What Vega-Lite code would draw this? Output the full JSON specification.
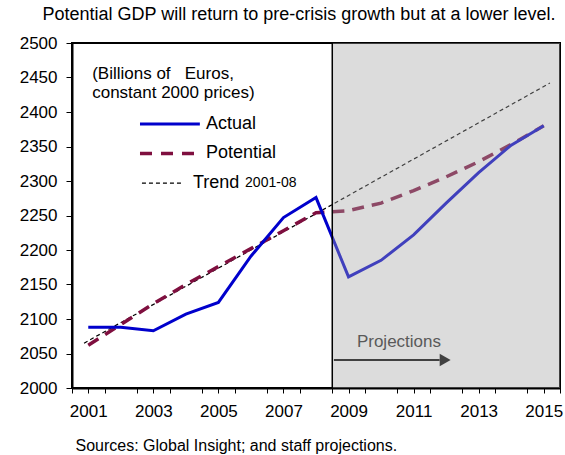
{
  "$schema": "https://vega.github.io/schema/vega-lite/v6.json",
  "width": 488,
  "height": 345,
  "padding": {"left": 19, "top": 6, "right": 5, "bottom": 5},
  "title": {"text": "Potential GDP will return to pre-crisis growth but at a lower level.", "fontSize": 18, "font": "Liberation Sans", "fontWeight": "normal", "anchor": "middle", "dx": -17, "offset": 10, "color": "black"},
  "config": {
    "view": {"stroke": "black", "strokeWidth": 2},
    "font": "Liberation Sans",
    "axis": {"labelFont": "Liberation Sans", "labelFontWeight": "normal", "labelColor": "black", "labelFontSize": 17,
      "labelOverlap": false, "labelFlush": false, "labelBound": false, "ticks": true, "tickColor": "black", "tickWidth": 1,
      "domainColor": "black", "domainWidth": 2, "grid": false, "zindex": 1},
    "axisX": {"tickSize": 5, "labelPadding": 10, "titleFont": "Liberation Sans", "titleFontSize": 16, "titleFontWeight": "normal",
      "titleColor": "black", "titleAnchor": "start", "titleAlign": "left", "titlePadding": 18, "titleX": 3},
    "axisY": {"tickSize": 6, "labelPadding": 9}
  },
  "data": {"values": [
    {"year": 2001, "series": "Actual", "value": 2088},
    {"year": 2002, "series": "Actual", "value": 2088},
    {"year": 2003, "series": "Actual", "value": 2083},
    {"year": 2004, "series": "Actual", "value": 2107},
    {"year": 2005, "series": "Actual", "value": 2124},
    {"year": 2006, "series": "Actual", "value": 2191},
    {"year": 2007, "series": "Actual", "value": 2247},
    {"year": 2008, "series": "Actual", "value": 2276},
    {"year": 2009, "series": "Actual", "value": 2161},
    {"year": 2010, "series": "Actual", "value": 2185},
    {"year": 2011, "series": "Actual", "value": 2222},
    {"year": 2012, "series": "Actual", "value": 2268},
    {"year": 2013, "series": "Actual", "value": 2312},
    {"year": 2014, "series": "Actual", "value": 2352},
    {"year": 2015, "series": "Actual", "value": 2380},
    {"year": 2001, "series": "Potential", "value": 2062},
    {"year": 2002, "series": "Potential", "value": 2092},
    {"year": 2003, "series": "Potential", "value": 2122},
    {"year": 2004, "series": "Potential", "value": 2150},
    {"year": 2005, "series": "Potential", "value": 2176},
    {"year": 2006, "series": "Potential", "value": 2202},
    {"year": 2007, "series": "Potential", "value": 2228},
    {"year": 2008, "series": "Potential", "value": 2254},
    {"year": 2009, "series": "Potential", "value": 2257},
    {"year": 2010, "series": "Potential", "value": 2268},
    {"year": 2011, "series": "Potential", "value": 2286},
    {"year": 2012, "series": "Potential", "value": 2306},
    {"year": 2013, "series": "Potential", "value": 2328},
    {"year": 2014, "series": "Potential", "value": 2353},
    {"year": 2015, "series": "Potential", "value": 2380},
    {"year": 2000.87, "series": "Trend 2001-08", "value": 2065},
    {"year": 2015.19, "series": "Trend 2001-08", "value": 2442}
  ]},
  "layer": [
    {
      "transform": [{"filter": "datum.series == 'Trend 2001-08'"}],
      "mark": {"type": "line", "color": "black", "strokeWidth": 1.2, "strokeDash": [4, 3]},
      "encoding": {
        "x": {"field": "year", "type": "quantitative", "scale": {"domain": [2000.5, 2015.5], "nice": false, "zero": false},
          "axis": {"title": "Sources: Global Insight; and staff projections.",
            "values": [2000.5, 2001, 2001.5, 2002.5, 2003, 2003.5, 2004.5, 2005, 2005.5, 2006.5, 2007, 2007.5, 2008.5, 2009, 2009.5, 2010.5, 2011, 2011.5, 2012.5, 2013, 2013.5, 2014.5, 2015, 2015.5],
            "tickCount": 100,
            "labelExpr": "datum.value % 1 == 0 ? format(datum.value, 'd') : ''",
            "labelOverlap": false,
            "encode": {"ticks": {"update": {"y2": {"value": -5}, "opacity": {"signal": "datum.value % 1 != 0 ? 1 : 0"}}}}}},
        "y": {"field": "value", "type": "quantitative", "scale": {"domain": [2000, 2500], "nice": false, "zero": false},
          "axis": {"title": null, "values": [2000, 2050, 2100, 2150, 2200, 2250, 2300, 2350, 2400, 2450, 2500], "format": "d",
            "tickCount": 100,
            "labelOverlap": false,
            "encode": {"ticks": {"update": {"x2": {"value": 6}}}}}}
      }
    },
    {
      "transform": [{"filter": "datum.series == 'Potential'"}],
      "mark": {"type": "line", "color": "#7F0F3F", "strokeWidth": 3.5, "strokeDash": [12, 8]},
      "encoding": {
        "x": {"field": "year", "type": "quantitative"},
        "y": {"field": "value", "type": "quantitative"}
      }
    },
    {
      "transform": [{"filter": "datum.series == 'Actual'"}],
      "mark": {"type": "line", "color": "#0000CC", "strokeWidth": 3},
      "encoding": {
        "x": {"field": "year", "type": "quantitative"},
        "y": {"field": "value", "type": "quantitative"}
      }
    },
    {
      "data": {"values": [{}]},
      "mark": {"type": "rect", "fill": "#A5A5A5", "opacity": 0.39},
      "encoding": {
        "x": {"datum": 2008.5, "type": "quantitative"},
        "x2": {"datum": 2015.5},
        "y": {"datum": 2000, "type": "quantitative"},
        "y2": {"datum": 2500}
      }
    },
    {
      "data": {"values": [{}]},
      "mark": {"type": "rule", "color": "black", "strokeWidth": 1.5},
      "encoding": {
        "x": {"datum": 2008.5, "type": "quantitative"},
        "y": {"datum": 2000, "type": "quantitative"},
        "y2": {"datum": 2500}
      }
    },
    {
      "data": {"values": [{}]},
      "mark": {"type": "rule", "color": "#404040", "strokeWidth": 2},
      "encoding": {
        "x": {"datum": 2008.55, "type": "quantitative"},
        "x2": {"datum": 2011.8},
        "y": {"datum": 2040.6, "type": "quantitative"}
      }
    },
    {
      "data": {"values": [{}]},
      "mark": {"type": "point", "shape": "triangle-right", "filled": true, "color": "#404040", "size": 160, "opacity": 1},
      "encoding": {
        "x": {"datum": 2011.97, "type": "quantitative"},
        "y": {"datum": 2040.6, "type": "quantitative"}
      }
    },
    {
      "data": {"values": [{}]},
      "mark": {"type": "text", "text": "Projections", "fontSize": 17, "color": "#595959", "align": "center", "baseline": "alphabetic"},
      "encoding": {
        "x": {"datum": 2010.55, "type": "quantitative"},
        "y": {"datum": 2060, "type": "quantitative"}
      }
    },
    {
      "data": {"values": [{}]},
      "mark": {"type": "text", "text": ["(Billions of\u00a0\u00a0 Euros,", "constant 2000 prices)"], "fontSize": 17, "color": "black", "align": "left", "baseline": "alphabetic", "lineHeight": 19},
      "encoding": {
        "x": {"datum": 2001.12, "type": "quantitative"},
        "y": {"datum": 2447.8, "type": "quantitative"}
      }
    },
    {
      "data": {"values": [{}]},
      "mark": {"type": "rule", "color": "#0000CC", "strokeWidth": 3},
      "encoding": {
        "x": {"datum": 2002.59, "type": "quantitative"},
        "x2": {"datum": 2004.43},
        "y": {"datum": 2382.6, "type": "quantitative"}
      }
    },
    {
      "data": {"values": [{}]},
      "mark": {"type": "rule", "color": "#7F0F3F", "strokeWidth": 3.5, "strokeDash": [12, 9]},
      "encoding": {
        "x": {"datum": 2002.59, "type": "quantitative"},
        "x2": {"datum": 2004.43},
        "y": {"datum": 2340, "type": "quantitative"}
      }
    },
    {
      "data": {"values": [{}]},
      "mark": {"type": "rule", "color": "black", "strokeWidth": 1.2, "strokeDash": [4, 3]},
      "encoding": {
        "x": {"datum": 2002.65, "type": "quantitative"},
        "x2": {"datum": 2003.94},
        "y": {"datum": 2297, "type": "quantitative"}
      }
    },
    {
      "data": {"values": [{}]},
      "mark": {"type": "text", "text": "Actual", "fontSize": 18, "color": "black", "align": "left", "baseline": "middle"},
      "encoding": {
        "x": {"datum": 2004.62, "type": "quantitative"},
        "y": {"datum": 2382.6, "type": "quantitative"}
      }
    },
    {
      "data": {"values": [{}]},
      "mark": {"type": "text", "text": "Potential", "fontSize": 18, "color": "black", "align": "left", "baseline": "middle"},
      "encoding": {
        "x": {"datum": 2004.62, "type": "quantitative"},
        "y": {"datum": 2340, "type": "quantitative"}
      }
    },
    {
      "data": {"values": [{}]},
      "mark": {"type": "text", "text": "Trend", "fontSize": 18, "color": "black", "align": "left", "baseline": "middle"},
      "encoding": {
        "x": {"datum": 2004.22, "type": "quantitative"},
        "y": {"datum": 2297, "type": "quantitative"}
      }
    },
    {
      "data": {"values": [{}]},
      "mark": {"type": "text", "text": "2001-08", "fontSize": 14, "color": "black", "align": "left", "baseline": "middle"},
      "encoding": {
        "x": {"datum": 2005.82, "type": "quantitative"},
        "y": {"datum": 2297, "type": "quantitative"}
      }
    }
  ]
}
